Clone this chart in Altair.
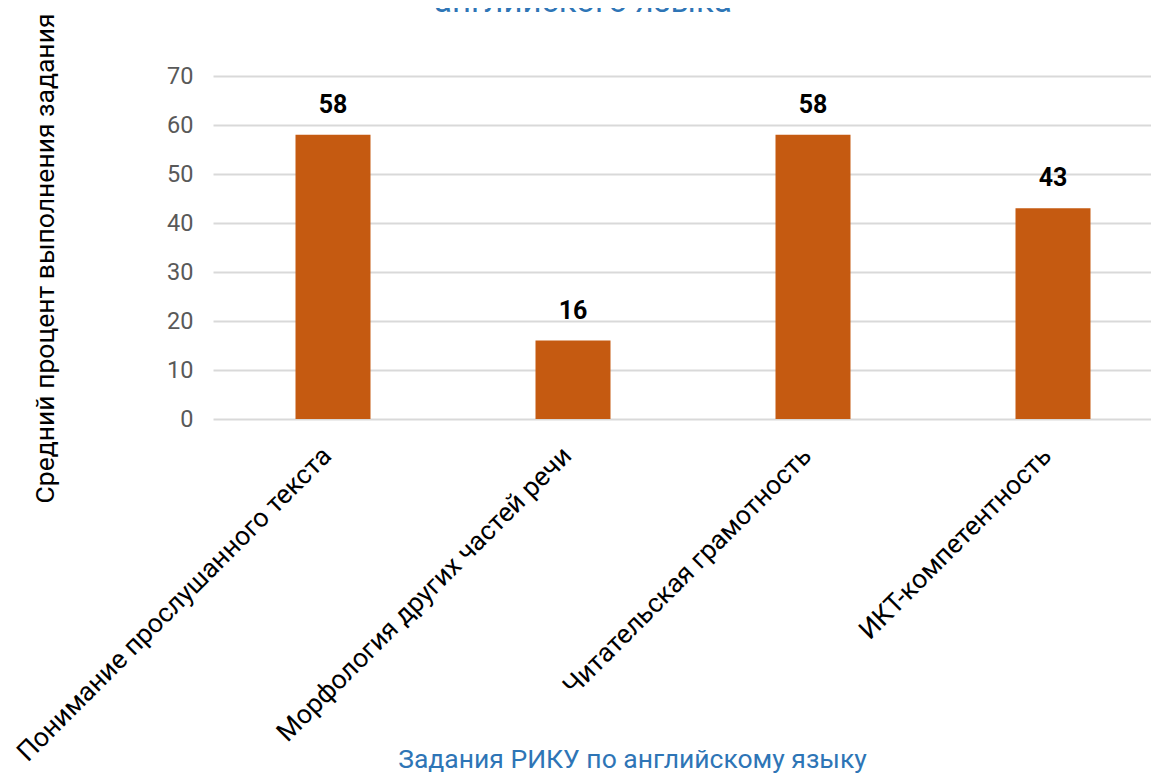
import altair as alt
import pandas as pd

categories = [
    "Понимание прослушанного текста",
    "Морфология других частей речи",
    "Читательская грамотность",
    "ИКТ-компетентность",
]
values = [58, 16, 58, 43]
y_ticks = [0, 10, 20, 30, 40, 50, 60, 70]

title_text = "английского языка"
x_title = "Задания РИКУ по английскому языку"
y_title = "Средний процент выполнения задания"

BLUE = "#2e75b6"
BAR = "#c55a11"
FONT = "Roboto"

df = pd.DataFrame({"cat": categories, "val": values})

x = alt.X(
    "cat:N",
    sort=categories,
    scale=alt.Scale(range=[0, 960], paddingInner=0.6875, paddingOuter=0.34375),
    axis=alt.Axis(
        title=x_title,
        titleColor=BLUE,
        titleFont=FONT,
        titleFontSize=26.5,
        titleFontWeight="normal",
        titleX=419,
        titleY=348,
        titleAlign="center",
        titleBaseline="alphabetic",
        labelAngle=-45,
        labelAlign="right",
        labelBaseline="alphabetic",
        labelFont=FONT,
        labelFontSize=26.5,
        labelColor="#000000",
        labelPadding=38,
        labelLimit=1000,
        ticks=False,
        domain=False,
        grid=False,
    ),
)

y = alt.Y(
    "val:Q",
    scale=alt.Scale(domain=[0, 70], nice=False),
    axis=alt.Axis(
        title=y_title,
        titleColor="#000000",
        titleFont=FONT,
        titleFontSize=26.5,
        titleFontWeight="normal",
        titleAngle=-90,
        titleX=-168,
        titleY=182,
        titleAlign="center",
        titleBaseline="middle",
        values=y_ticks,
        labelFont=FONT,
        labelFontSize=23.5,
        labelColor="#595959",
        labelPadding=20,
        ticks=False,
        domain=False,
        grid=True,
        gridColor="#d9d9d9",
        gridWidth=2,
    ),
)

bars = alt.Chart(df).mark_bar(color=BAR).encode(x=x, y=y)
labels = alt.Chart(df).mark_text(
    font=FONT, fontSize=25, fontWeight="bold", color="#000000",
    baseline="alphabetic", dy=-22,
).encode(x=alt.X("cat:N", sort=categories), y="val:Q", text="val:Q")

chart = (
    alt.layer(bars, labels)
    .properties(
        width=938,
        height=343,
        autosize=alt.AutoSizeParams(type="none"),
        padding={"left": 205, "top": 68, "right": 0, "bottom": 355},
        title=alt.TitleParams(
            text=title_text,
            font=FONT,
            fontSize=33,
            fontWeight="normal",
            color=BLUE,
            anchor="middle",
            baseline="alphabetic",
            offset=0,
            dy=32,
            dx=-99,
        ),
    )
    .configure_view(stroke=None)
)

chart.save("out.html", embed_options={"renderer": "svg", "actions": False})
